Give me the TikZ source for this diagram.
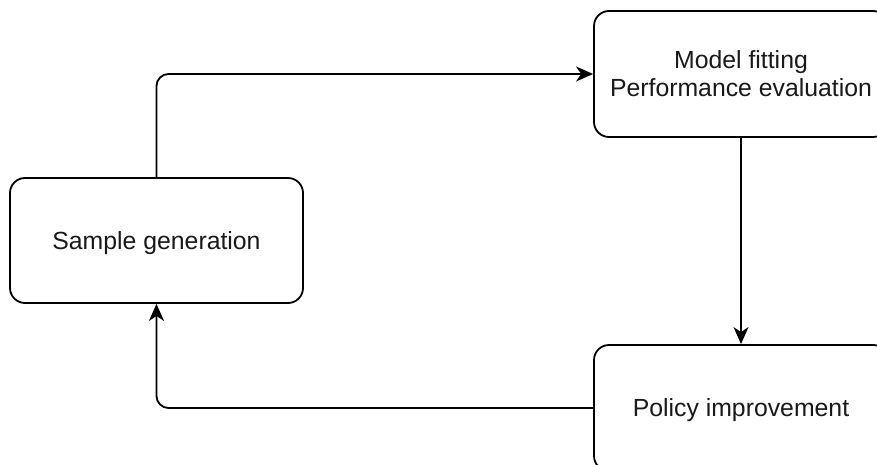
\documentclass[tikz,border=0pt]{standalone}
\usepackage{fontspec}
\setmainfont{Liberation Sans}
\usetikzlibrary{arrows.meta}
\begin{document}
\begin{tikzpicture}[x=1pt,y=-1pt,
  stage/.style={draw, line width=1.8pt, rounded corners=15pt, align=center,
    inner sep=0pt, text=black!90, text depth=0pt,
    font=\fontsize{24.8}{28}\selectfont},
  flow/.style={line width=1.8pt, rounded corners=12pt,
    -{Stealth[length=17pt,width=15pt,inset=5pt]}}]
  % page frame; the right-hand boxes run past its edges
  \path[use as bounding box, clip] (0,0) rectangle (877,465);
  \fill[white] (0,0) rectangle (877,465);

  % stages of the loop
  \node[stage, minimum width=294pt, minimum height=126pt] (fit) at (741,74)
    {Model fitting\\Performance evaluation};
  \node[stage, minimum width=294pt, minimum height=126pt] (pol) at (741,408)
    {Policy improvement};
  \node[stage, minimum width=293pt, minimum height=125pt] (gen) at (156.5,240.5)
    {Sample generation};

  % loop connectors
  \draw[flow] (gen.north) |- (fit.west);
  \draw[flow] (fit.south) -- (pol.north);
  \draw[flow] (pol.west) -| (gen.south);
\end{tikzpicture}
\end{document}
